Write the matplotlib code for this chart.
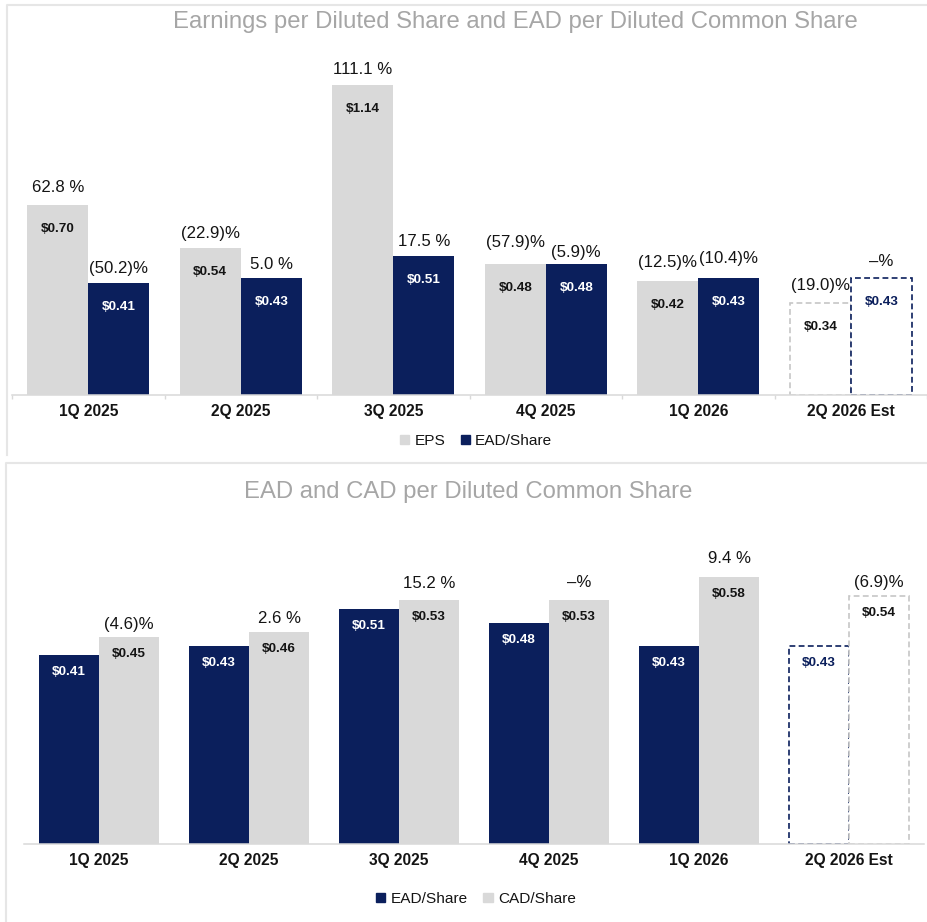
import matplotlib
matplotlib.use('Agg')
import matplotlib.pyplot as plt
from matplotlib.patches import Patch
from matplotlib.lines import Line2D
import numpy as np

plt.rcParams['font.family'] = ['Liberation Sans', 'DejaVu Sans']

# ---------------- data ----------------
categories = ['1Q 2025', '2Q 2025', '3Q 2025', '4Q 2025', '1Q 2026', '2Q 2026 Est']
eps = [0.70, 0.54, 1.14, 0.48, 0.42, 0.34]
ead = [0.41, 0.43, 0.51, 0.48, 0.43, 0.43]
cad = [0.45, 0.46, 0.53, 0.53, 0.58, 0.54]
eps_pct = ['62.8 %', '(22.9)%', '111.1 %', '(57.9)%', '(12.5)%', '(19.0)%']
ead_pct = ['(50.2)%', '5.0 %', '17.5 %', '(5.9)%', '(10.4)%', '–%']
cad_pct = ['(4.6)%', '2.6 %', '15.2 %', '–%', '9.4 %', '(6.9)%']
est_index = 5

# ---------------- layout / style ----------------
W, H = 927, 922
NAVY = '#0b1f5c'
GRAY = '#d9d9d9'
EST_GRAY = '#c6c6c6'
TITLE_C = '#a6a6a6'
TXT = '#141414'
# per-label vertical offsets (px above bar top)
eps_off = [17, 15, 15, 22, 18, 17]
ead_off = [15, 14, 15, 12, 20, 17]
cad_off = [13, 14, 17, 18, 19, 13]

PX = 0.72  # points per pixel at dpi 100

fig = plt.figure(figsize=(W / 100, H / 100), dpi=100)


def fx(px):
    return px / W


def fy(py):
    return 1 - py / H


def style_axis(ax, ticks_at_bounds):
    for s in ['top', 'right', 'left']:
        ax.spines[s].set_visible(False)
    ax.spines['bottom'].set_color(GRAY)
    ax.spines['bottom'].set_linewidth(1.1)
    ax.set_yticks([])
    x = np.arange(len(categories))
    ax.set_xticks(x)
    ax.set_xticklabels(categories, fontsize=11.2, fontweight='bold', color=TXT)
    ax.tick_params(axis='x', which='major', length=0, pad=6.3)
    if ticks_at_bounds:
        ax.set_xticks(np.arange(len(categories) + 1) - 0.5, minor=True)
        ax.tick_params(axis='x', which='minor', length=3, width=1, color=GRAY)


def draw_bars(ax, xs, vals, color, est_edge, label_color_in, est_label_color,
              pcts, offs, inner_off):
    bars = ax.bar(xs, vals, 0.4, color=color, linewidth=0)
    b = bars[est_index]
    b.set_facecolor('white')
    b.set_edgecolor(est_edge)
    b.set_linewidth(1.2)
    b.set_linestyle((0, (3.5, 2)))
    for i, (xc, v) in enumerate(zip(xs, vals)):
        ax.annotate(pcts[i], (xc, v), xytext=(0, offs[i] * PX), textcoords='offset points',
                    ha='center', va='center', fontsize=12.1, color=TXT)
        c = est_label_color if i == est_index else label_color_in
        ax.annotate(f'${v:.2f}', (xc, v), xytext=(0, -inner_off * PX), textcoords='offset points',
                    ha='center', va='center', fontsize=9.7, fontweight='bold', color=c)


x = np.arange(len(categories))

# ---------------- top panel ----------------
ax1 = fig.add_axes([fx(12), fy(395), fx(915), (395 - 55) / H])
ax1.set_xlim(-0.5, -0.5 + 915 / 153.5)
ax1.set_ylim(0, 340 / 272)
draw_bars(ax1, x - 0.2, eps, GRAY, EST_GRAY, TXT, TXT, eps_pct, eps_off, 24)
draw_bars(ax1, x + 0.2, ead, NAVY, NAVY, 'white', NAVY, ead_pct, ead_off, 24)
style_axis(ax1, True)

fig.text(fx(515), fy(22), 'Earnings per Diluted Share and EAD per Diluted Common Share',
         ha='center', va='center', fontsize=17.2, color=TITLE_C)
fig.legend(handles=[Patch(color=GRAY, label='EPS'), Patch(color=NAVY, label='EAD/Share')],
           loc='center', bbox_to_anchor=(fx(476), fy(441)), ncol=2, frameon=False,
           fontsize=11.1, handlelength=0.6, handleheight=0.6, handletextpad=0.35,
           columnspacing=1.0, borderpad=0, labelcolor=TXT)

# ---------------- bottom panel ----------------
ax2 = fig.add_axes([fx(24), fy(844), fx(900), 330 / H])
ax2.set_xlim(-0.5, 5.5)
ax2.set_ylim(0, 330 / 460)
draw_bars(ax2, x - 0.2, ead, NAVY, NAVY, 'white', NAVY, [''] * 6, [0] * 6, 17)
draw_bars(ax2, x + 0.2, cad, GRAY, EST_GRAY, TXT, TXT, cad_pct, cad_off, 17)
style_axis(ax2, False)

fig.text(fx(468), fy(492), 'EAD and CAD per Diluted Common Share',
         ha='center', va='center', fontsize=17.2, color=TITLE_C)
fig.legend(handles=[Patch(color=NAVY, label='EAD/Share'), Patch(color=GRAY, label='CAD/Share')],
           loc='center', bbox_to_anchor=(fx(476), fy(899)), ncol=2, frameon=False,
           fontsize=11.1, handlelength=0.6, handleheight=0.6, handletextpad=0.35,
           columnspacing=1.0, borderpad=0, labelcolor=TXT)

# ---------------- panel frames ----------------
FRAME = '#e6e6e6'
fig.add_artist(Line2D([fx(7), fx(7), 1], [fy(455), fy(5), fy(5)], color=FRAME, lw=1.5))
fig.add_artist(Line2D([fx(6), fx(6), 1], [0, fy(463), fy(463)], color=FRAME, lw=1.5))

fig.savefig('out.png', dpi=100)
